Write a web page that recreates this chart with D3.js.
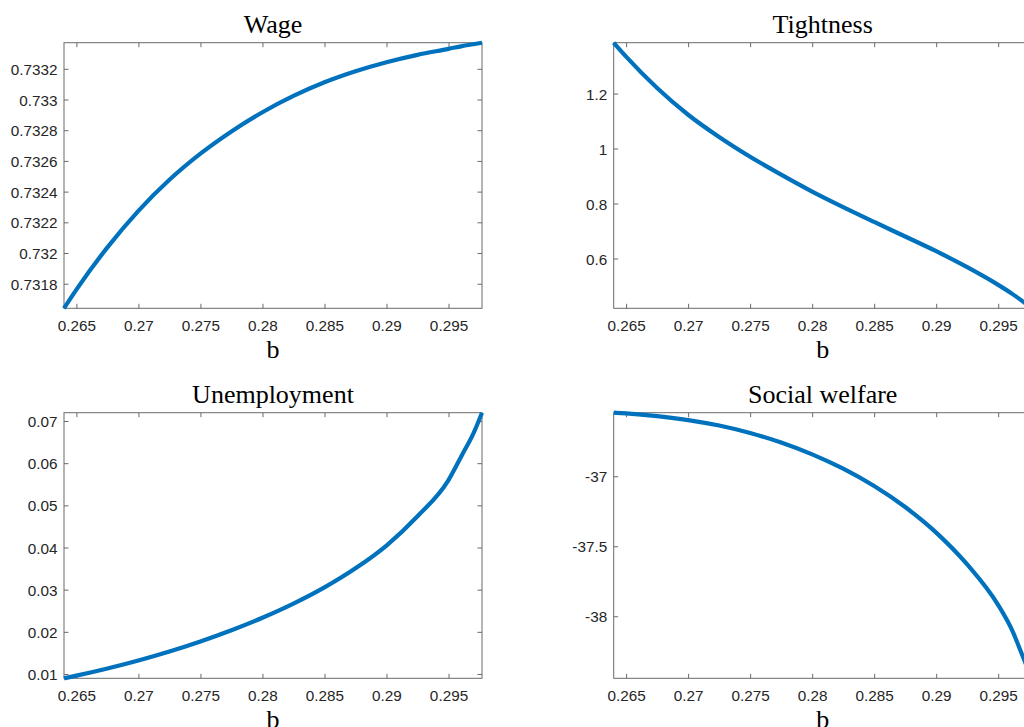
<!DOCTYPE html>
<html>
<head>
<meta charset="utf-8">
<script src="https://cdn.jsdelivr.net/npm/d3@7"></script>
<style>
  html, body { margin: 0; padding: 0; background: #fff; }
  svg { display: block; }
</style>
</head>
<body>
<svg id="chart" width="1024" height="727"></svg>
<script>
// ---- data ----
const b = [0.264, 0.265, 0.2675, 0.27, 0.2725, 0.275, 0.2775, 0.28, 0.2825, 0.285, 0.2875, 0.29, 0.2925, 0.295, 0.2961, 0.297, 0.2977];
const wage = [0.73164, 0.731762, 0.732037, 0.732275, 0.732477, 0.732647, 0.732792, 0.732917, 0.733023, 0.733112, 0.733184, 0.733243, 0.733291, 0.73333, 0.733348, 0.73336, 0.73337];
const tightness = [1.385, 1.3344, 1.2203, 1.123, 1.042, 0.970, 0.905, 0.8435, 0.787, 0.733, 0.680, 0.6265, 0.5684, 0.504, 0.4723, 0.4433, 0.4189];
const unemployment = [0.00898, 0.009605, 0.011318, 0.013218, 0.015343, 0.017718, 0.020368, 0.023331, 0.026681, 0.030531, 0.035056, 0.040456, 0.0474, 0.0560, 0.0620, 0.0670, 0.07197];
const welfare = [-36.546, -36.551, -36.5704, -36.5985, -36.6379, -36.691, -36.7591, -36.8435, -36.946, -37.0698, -37.2198, -37.4023, -37.6298, -37.9198, -38.0958, -38.29, -38.443];

const titles = ["Wage", "Tightness", "Unemployment", "Social welfare"];
const xTicks = [0.265, 0.27, 0.275, 0.28, 0.285, 0.29, 0.295];
const xTickLabels = ["0.265", "0.27", "0.275", "0.28", "0.285", "0.29", "0.295"];
const wageTicks = [0.7318, 0.732, 0.7322, 0.7324, 0.7326, 0.7328, 0.733, 0.7332];
const wageTickLabels = ["0.7318", "0.732", "0.7322", "0.7324", "0.7326", "0.7328", "0.733", "0.7332"];
const tightTicks = [0.6, 0.8, 1, 1.2];
const tightTickLabels = ["0.6", "0.8", "1", "1.2"];
const unempTicks = [0.01, 0.02, 0.03, 0.04, 0.05, 0.06, 0.07];
const unempTickLabels = ["0.01", "0.02", "0.03", "0.04", "0.05", "0.06", "0.07"];
const welfTicks = [-38, -37.5, -37];
const welfTickLabels = ["-38", "-37.5", "-37"];
const xLabel = "b";

// ---- layout ----
const panels = [
  { series: wage, title: titles[0], yt: wageTicks, ytl: wageTickLabels, x0: 64, y0: 42.7 },
  { series: tightness, title: titles[1], yt: tightTicks, ytl: tightTickLabels, x0: 613.7, y0: 42.7 },
  { series: unemployment, title: titles[2], yt: unempTicks, ytl: unempTickLabels, x0: 64, y0: 412.7 },
  { series: welfare, title: titles[3], yt: welfTicks, ytl: welfTickLabels, x0: 613.7, y0: 412.7 }
];
const W = 418, H = 265.6;
const tickLen = 4.5;
const axisColor = "#6a6a6a";
const textColor = "#262626";
const lineColor = "#0072BD";

const svg = d3.select("#chart");
svg.append("rect").attr("width", 1024).attr("height", 727).attr("fill", "#fff");

panels.forEach(p => {
  const g = svg.append("g").attr("transform", `translate(${p.x0},${p.y0})`);
  const x = d3.scaleLinear().domain(d3.extent(b)).range([0, W]);
  const y = d3.scaleLinear().domain(d3.extent(p.series)).range([H, 0]);

  const xb = g.append("g").attr("transform", `translate(0,${H})`)
    .call(d3.axisBottom(x).tickValues(xTicks).tickFormat((d, i) => xTickLabels[i]).tickSizeInner(-tickLen).tickSizeOuter(0).tickPadding(0));
  const xt = g.append("g")
    .call(d3.axisTop(x).tickValues(xTicks).tickFormat("").tickSizeInner(-tickLen).tickSizeOuter(0));
  const yl = g.append("g")
    .call(d3.axisLeft(y).tickValues(p.yt).tickFormat((d, i) => p.ytl[i]).tickSizeInner(-tickLen).tickSizeOuter(0).tickPadding(0));
  const yr = g.append("g").attr("transform", `translate(${W},0)`)
    .call(d3.axisRight(y).tickValues(p.yt).tickFormat("").tickSizeInner(-tickLen).tickSizeOuter(0));

  [xb, xt, yl, yr].forEach(a => {
    a.select(".domain").remove();
    a.selectAll(".tick line").attr("stroke", axisColor).attr("stroke-width", 1);
  });
  xb.selectAll(".tick text")
    .attr("y", 22.4).attr("dy", null)
    .attr("font-family", "'Liberation Sans', Arial, Helvetica, sans-serif")
    .attr("font-size", 15.3).attr("fill", textColor);
  yl.selectAll(".tick text")
    .attr("x", -6.5).attr("dy", "0.36em")
    .attr("font-family", "'Liberation Sans', Arial, Helvetica, sans-serif")
    .attr("font-size", 15.3).attr("fill", textColor);

  g.append("rect").attr("x", 0).attr("y", 0).attr("width", W).attr("height", H)
    .attr("fill", "none").attr("stroke", axisColor).attr("stroke-width", 1);

  const line = d3.line().x((d, i) => x(b[i])).y(d => y(d)).curve(d3.curveMonotoneX);
  g.append("path").datum(p.series).attr("d", line)
    .attr("fill", "none").attr("stroke", lineColor).attr("stroke-width", 4.2)
    .attr("stroke-linejoin", "round");

  g.append("text").attr("x", W / 2).attr("y", -9.5).attr("text-anchor", "middle")
    .attr("font-family", "'Liberation Serif', 'Times New Roman', serif")
    .attr("font-size", 26).attr("fill", "#000").text(p.title);
  g.append("text").attr("x", W / 2).attr("y", H + 50).attr("text-anchor", "middle")
    .attr("font-family", "'Liberation Serif', 'Times New Roman', serif")
    .attr("font-size", 26).attr("fill", "#000").text(xLabel);
});
</script>
</body>
</html>
